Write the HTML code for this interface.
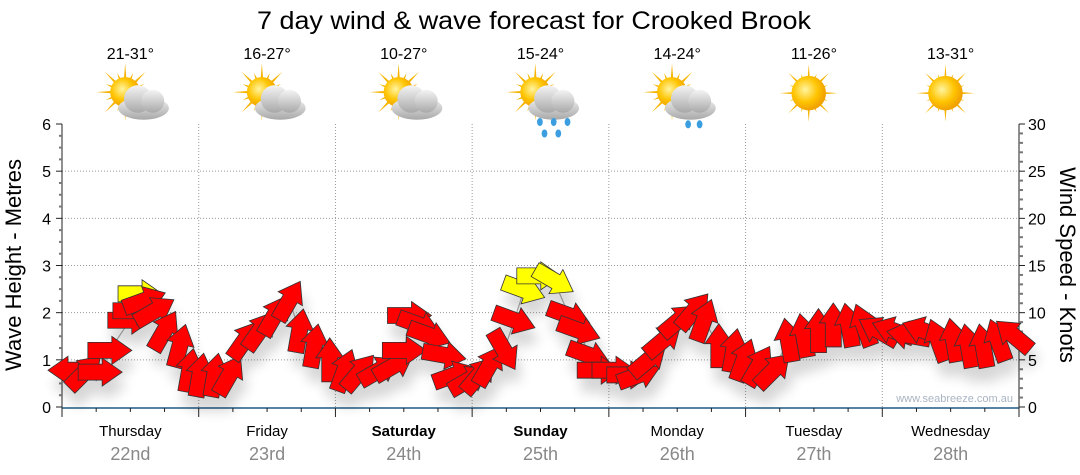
<!DOCTYPE html>
<html><head><meta charset="utf-8"><style>
html,body{margin:0;padding:0;background:#fff;}
svg{display:block;font-family:"Liberation Sans",sans-serif;}
</style></head><body>
<svg id="chart" width="1080" height="475" viewBox="0 0 1080 475" xmlns="http://www.w3.org/2000/svg">
<defs>
<filter id="shadow" x="-50%" y="-50%" width="200%" height="200%">
<feGaussianBlur in="SourceAlpha" stdDeviation="6"/>
<feOffset dx="4" dy="14" result="b"/>
<feComponentTransfer><feFuncA type="linear" slope="0.16"/></feComponentTransfer>
<feMerge><feMergeNode/><feMergeNode in="SourceGraphic"/></feMerge>
</filter>
<radialGradient id="sunG" cx="0.4" cy="0.4" r="0.6"><stop offset="0" stop-color="#fff4a0"/><stop offset="0.6" stop-color="#ffc400"/><stop offset="1" stop-color="#f0a000"/></radialGradient>
<linearGradient id="cloudG" x1="0" y1="0" x2="0" y2="1"><stop offset="0" stop-color="#f4f4f4"/><stop offset="1" stop-color="#a8a8a8"/></linearGradient>
</defs>
<text x="534" y="29" text-anchor="middle" font-size="25" textLength="554" lengthAdjust="spacingAndGlyphs">7 day wind &amp; wave forecast for Crooked Brook</text>
<g id="grid"></g>
<g id="axes"></g>
<g id="days"></g>
<g id="series"></g>
<text x="1013" y="402" text-anchor="end" font-size="11" fill="#a9b4c4">www.seabreeze.com.au</text>
<text transform="translate(21,265) rotate(-90)" text-anchor="middle" font-size="22">Wave Height - Metres</text>
<text transform="translate(1060,265) rotate(90)" text-anchor="middle" font-size="22">Wind Speed - Knots</text>
</svg>
<script>
const dayNames = ["Thursday","Friday","Saturday","Sunday","Monday","Tuesday","Wednesday"];
const dayDates = ["22nd","23rd","24th","25th","26th","27th","28th"];
const dayBold = [false,false,true,true,false,false,false];
const tempRanges = ["21-31°","16-27°","10-27°","15-24°","14-24°","11-26°","13-31°"];
const weatherTypes = ["cloud","cloud","cloud","rain","shower","sun","sun"];
const waveTicks = [0,1,2,3,4,5,6];
const windTicks = [0,5,10,15,20,25,30];
const windHours = [1.4,4.0,6.7,8.4,11.9,12.8,13.7,14.5,16.3,18.0,20.7,22.4,
 24.2,26.8,29.4,32.1,34.7,37.3,39.9,41.7,44.3,47.0,
 49.6,52.2,55.7,58.3,60.1,61.0,62.7,64.5,67.1,68.9,71.5,
 73.2,75.0,77.6,79.4,81.1,83.7,86.4,89.0,90.8,92.5,94.3,
 96.9,99.5,101.3,103.0,105.6,108.3,110.9,112.7,115.3,117.9,119.7,
 122.3,124.9,127.5,130.2,132.8,135.4,138.1,140.7,143.3,
 145.9,148.6,151.2,153.8,156.5,159.1,161.7,164.3,167.0];
const windKnots = [3.9,3.7,3.7,6.0,9.2,10.2,12.0,11.3,10.2,8.1,6.5,3.9,
 3.4,3.4,3.4,7.1,8.1,9.7,11.3,8.1,6.5,5.0,
 3.9,3.7,3.9,4.4,6.0,9.7,8.7,7.6,5.5,3.4,2.9,
 3.4,4.4,6.0,9.2,12.4,13.9,13.4,9.7,8.1,5.5,3.9,
 3.9,3.4,3.4,5.0,7.1,9.2,10.2,9.2,6.5,6.0,5.0,
 4.4,3.9,7.1,7.6,8.1,8.7,8.7,8.7,8.1,
 8.1,7.6,8.1,7.1,7.1,6.5,6.5,7.1,7.6];
const windDirs = [180,-45,0,0,0,0,0,-20,-30,-60,-75,-80,
 -80,-80,-60,-55,-55,-60,-60,-80,-80,-90,
 -70,-50,-30,-30,0,0,20,20,10,-20,-30,
 -50,-60,60,20,20,0,30,20,20,20,0,
 0,0,-20,-40,-40,-40,-50,-70,-90,-80,-70,
 -60,-45,-100,-100,-90,-90,-100,-110,-150,
 -160,-170,-160,-110,-100,-100,-100,-110,-140];

const NS="http://www.w3.org/2000/svg";
const X0=62,X1=1019,Y0=407,Y1=124;
const xH=h=>X0+(X1-X0)*h/168;
const yM=m=>Y0-(Y0-Y1)*m/6;
const yK=k=>Y0-(Y0-Y1)*k/30;
function mk(tag,attrs,parent){const e=document.createElementNS(NS,tag);for(const k in attrs)e.setAttribute(k,attrs[k]);parent.appendChild(e);return e;}
const grid=document.getElementById('grid'),axes=document.getElementById('axes'),days=document.getElementById('days'),series=document.getElementById('series');

for(let m=1;m<=5;m++){const l=mk('line',{x1:X0,x2:X1,y1:yM(m),y2:yM(m),stroke:'#999','stroke-width':1,'stroke-dasharray':'1,2'},grid);

}
for(let d=1;d<7;d++){const l=mk('line',{x1:xH(d*24),x2:xH(d*24),y1:Y1,y2:Y0,stroke:'#999','stroke-width':1,'stroke-dasharray':'1,2'},grid);

}

mk('line',{x1:X0,x2:X0,y1:Y1,y2:Y0+1,stroke:'#222','stroke-width':1},axes);
for(let i=0;i<=24;i++){const y=yM(i/4);mk('line',{x1:X0-(i%4?3:6),x2:X0,y1:y,y2:y,stroke:i%4?'#777':'#222','stroke-width':i%4?2:1},axes);}
waveTicks.forEach(v=>{const t=mk('text',{x:X0-11,y:yM(v)+6,'text-anchor':'end','font-size':16},axes);t.textContent=v;

});
mk('line',{x1:X1,x2:X1,y1:Y1,y2:Y0+1,stroke:'#222','stroke-width':1},axes);
for(let i=0;i<=30;i++){const y=yK(i);mk('line',{x1:X1,x2:X1+(i%5?4:6),y1:y,y2:y,stroke:i%5?'#777':'#222','stroke-width':i%5?2:1},axes);}
windTicks.forEach(v=>{const t=mk('text',{x:X1+9,y:yK(v)+6,'text-anchor':'start','font-size':16},axes);t.textContent=v;

});
mk('line',{x1:X0,x2:X1,y1:Y0+1,y2:Y0+1,stroke:'#1f5a85','stroke-width':1.5},axes);
for(let i=0;i<=28;i++){const x=xH(i*6);mk('line',{x1:x,x2:x,y1:Y0+1,y2:Y0+(i%4?5:10),stroke:'#222','stroke-width':1},axes);}

function weatherIcon(g,type){
  const sx=-8,sy=-6;
  for(let i=0;i<16;i++){const a=i*Math.PI/8,r=i%2?18:25;
    mk('polygon',{points:`${sx+Math.cos(a-0.12)*10},${sy+Math.sin(a-0.12)*10} ${sx+Math.cos(a)*r},${sy+Math.sin(a)*r} ${sx+Math.cos(a+0.12)*10},${sy+Math.sin(a+0.12)*10}`,fill:'#f6b400'},g);}
  const s=mk('circle',{cx:sx,cy:sy,r:13,fill:'url(#sunG)'},g);
  if(type==='sun'){s.setAttribute('r',15);return;}
  mk('ellipse',{cx:8,cy:8,rx:22,ry:10,fill:'url(#cloudG)'},g);
  mk('circle',{cx:3,cy:0,r:12,fill:'url(#cloudG)'},g);
  mk('circle',{cx:16,cy:2,r:10,fill:'url(#cloudG)'},g);
  if(type==='rain'||type==='shower'){
    const drops=type==='rain'?[[-4,20],[8,20],[20,20],[0,30],[12,30]]:[[6,22],[16,22]];
    drops.forEach(d=>mk('ellipse',{cx:d[0],cy:d[1],rx:2.5,ry:3.5,fill:'#3a9ee0'},g));
  }
}
dayNames.forEach((n,i)=>{
  const cx=xH(i*24+12);
  const t1=mk('text',{x:cx,y:436,'text-anchor':'middle','font-size':15,'font-weight':dayBold[i]?'bold':'normal'},days);t1.textContent=n;
  
  
  const t2=mk('text',{x:cx,y:460,'text-anchor':'middle','font-size':18,fill:'#888'},days);t2.textContent=dayDates[i];
  
  
  const t3=mk('text',{x:cx,y:59,'text-anchor':'middle','font-size':16},days);t3.textContent=tempRanges[i];
  
  
  const g=mk('g',{transform:`translate(${cx+4},${weatherTypes[i]==='sun'?100:99}) scale(1.15)`},days);
  
  
  weatherIcon(g,weatherTypes[i]);
});

const pts=windHours.map((h,i)=>xH(h)+','+yK(windKnots[i])).join(' ');
const pl=mk('polyline',{points:pts,fill:'none',stroke:'#aaa','stroke-width':1.2},series);


const ag=mk('g',{filter:'url(#shadow)'},series);
windHours.forEach((h,i)=>{
  const x=xH(h),y=yK(windKnots[i]);
  const p=mk('polygon',{points:'-22,-8 2,-8 2,-14 22,0 2,14 2,8 -22,8',fill:windKnots[i]>=12?'#ffff00':'#ff0000',stroke:'#333','stroke-width':0.8,transform:`translate(${x},${y}) rotate(${windDirs[i]})`},ag);
  
  
});
</script>
</body></html>
